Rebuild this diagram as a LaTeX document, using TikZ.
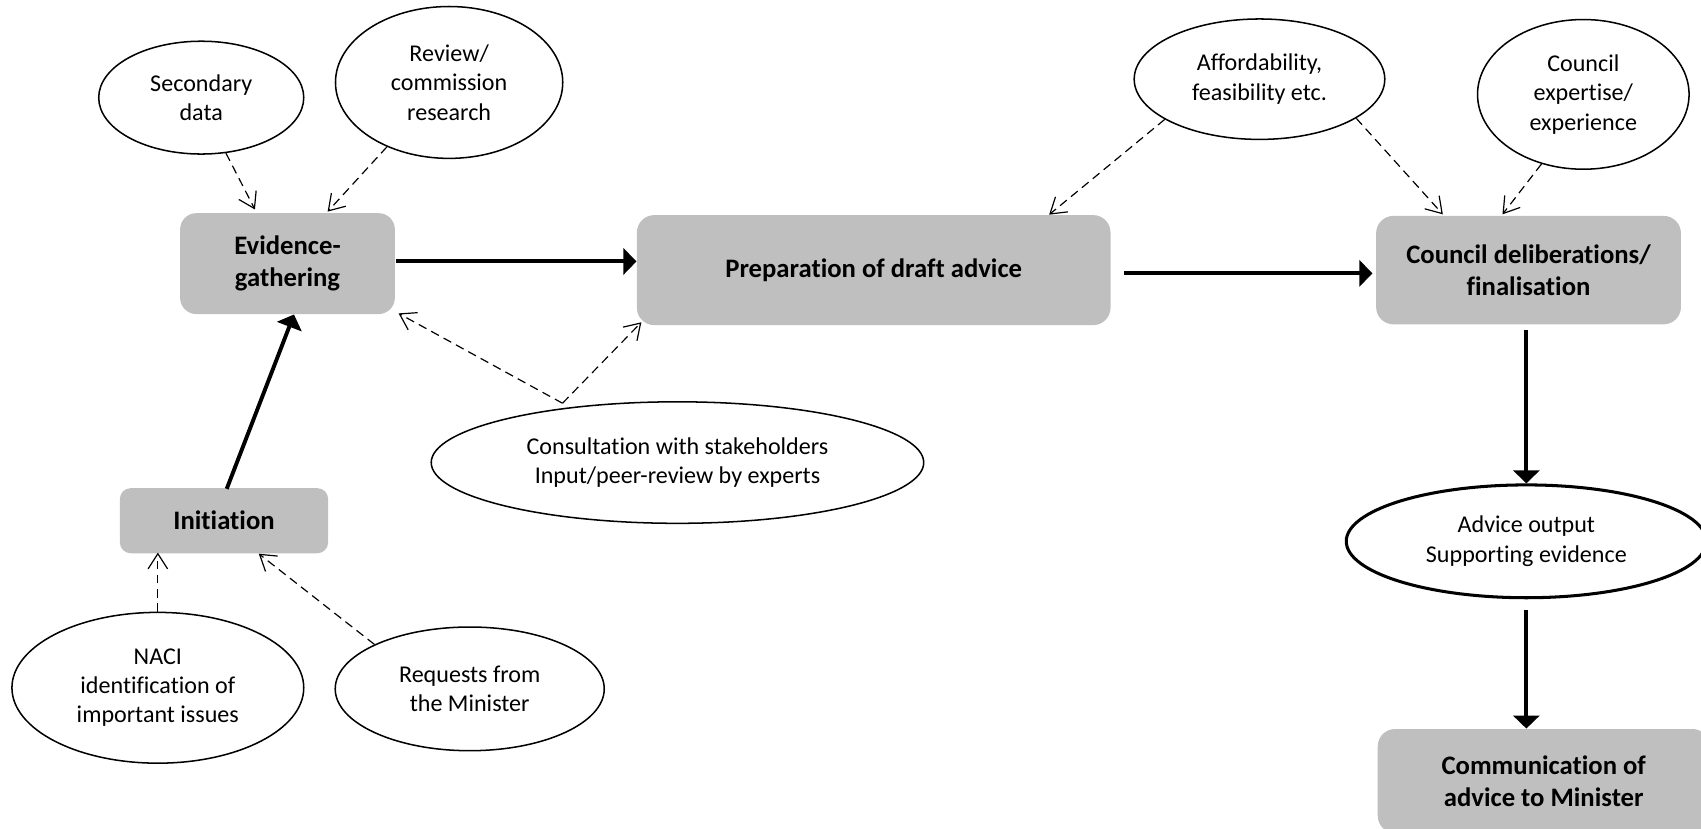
\documentclass[tikz,border=0pt]{standalone}
\usepackage{fontspec}
\setmainfont{Carlito}[Ligatures={NoCommon,NoContextual}]
\usetikzlibrary{shapes.geometric,arrows.meta,calc}
\definecolor{boxgray}{RGB}{191,191,191}
\begin{document}
\begin{tikzpicture}[x=0.5pt,y=-0.5pt,
  stagebox/.style={fill=boxgray, draw=none, align=center, inner sep=0pt,
    font=\bfseries\fontsize{12.3}{15}\selectfont},
  bubble/.style={ellipse, draw=black, line width=0.7pt, fill=white, align=center, inner sep=0pt,
    font=\fontsize{11.1}{13.5}\selectfont},
  flow/.style={line width=1.8pt, -{Triangle[length=6pt,width=12pt]}},
  feed/.style={line width=0.55pt, dash pattern=on 4pt off 2.5pt,
    -{Straight Barb[length=7pt,width=9pt]}},
]
\path[use as bounding box] (0,0) rectangle (1568,764);

% ellipses
\node[bubble, minimum width=94.5pt, minimum height=52pt] (sec) at (185.5,90) {Secondary\\data};
\node[bubble, minimum width=104.75pt, minimum height=70pt] (rev) at (414,76) {Review/\\commission\\research};
\node[bubble, minimum width=115.5pt, minimum height=55.5pt] (aff) at (1161,73) {Affordability,\\feasibility etc.};
\node[bubble, minimum width=97.5pt, minimum height=69pt] (exp) at (1459.5,87) {Council\\expertise/\\experience};
\node[bubble, minimum width=227pt, minimum height=56pt] (cons) at (624.5,426.4) {Consultation with stakeholders\\Input/peer-review by experts};
\node[bubble, minimum width=134.5pt, minimum height=69.5pt] (naci) at (145.5,634) {NACI\\identification of\\important issues};
\node[bubble, minimum width=124pt, minimum height=57pt] (req) at (433,635) {Requests from\\the Minister};
\node[bubble, line width=1.4pt, minimum width=166pt, minimum height=52pt] (adv) at (1407,499) {Advice output\\Supporting evidence};

% boxes
\node[stagebox, rounded corners=7.5pt, minimum width=99pt, minimum height=46.5pt] (evid) at (265,243) {Evidence-\\gathering};
\node[stagebox, rounded corners=8pt, minimum width=218.3pt, minimum height=50.7pt] (prep) at (805.4,249) {Preparation of draft advice};
\node[stagebox, rounded corners=8pt, minimum width=140.5pt, minimum height=50pt] (coun) at (1409,249) {Council deliberations/\\finalisation};
\node[stagebox, rounded corners=5pt, minimum width=96pt, minimum height=30pt] (init) at (206.5,480) {Initiation};
\node[stagebox, rounded corners=8pt, minimum width=153pt, minimum height=48pt] (comm) at (1423,720) {Communication of\\advice to Minister};

% main flow
\draw[flow] ($(evid.east)+(1,-2)$) -- ($(prep.west)+(0,-8)$);
\draw[flow] ($(prep.east)+(12,3)$) -- ($(coun.west)+(-3,3)$);
\draw[flow] ($(init.north)+(2.5,1)$) -- ($(evid.south)+(6,0)$);
\draw[flow] ($(coun.south)+(-2,5)$) -- (adv.north);
\draw[flow] ($(adv.south)+(0,10)$) -- (adv.south |- comm.north);

% inputs
\draw[feed] (sec.-66) -- ($(evid.north)+(-30,-3)$);
\draw[feed] (rev.-134) -- ($(evid.north)+(37,-1)$);
\draw[feed] ($(cons.north)+(-106,2)$) -- ($(evid.south east)+(3,-1)$);
\draw[feed] ($(cons.north)+(-106,2)$) -- ($(prep.south west)+(4.5,-3)$);
\draw[feed] (aff.-157) -- ($(prep.north east)+(-57,0)$);
\draw[feed] (aff.-22) -- ($(coun.north)+(-79,-1)$);
\draw[feed] (exp.-121) -- ($(coun.north)+(-24,-1)$);
\draw[feed] (naci.north) -- ($(naci.north |- init.south)+(0,-1)$);
\draw[feed] (req.155) -- ($(init.south)+(32,0)$);
\end{tikzpicture}
\end{document}
